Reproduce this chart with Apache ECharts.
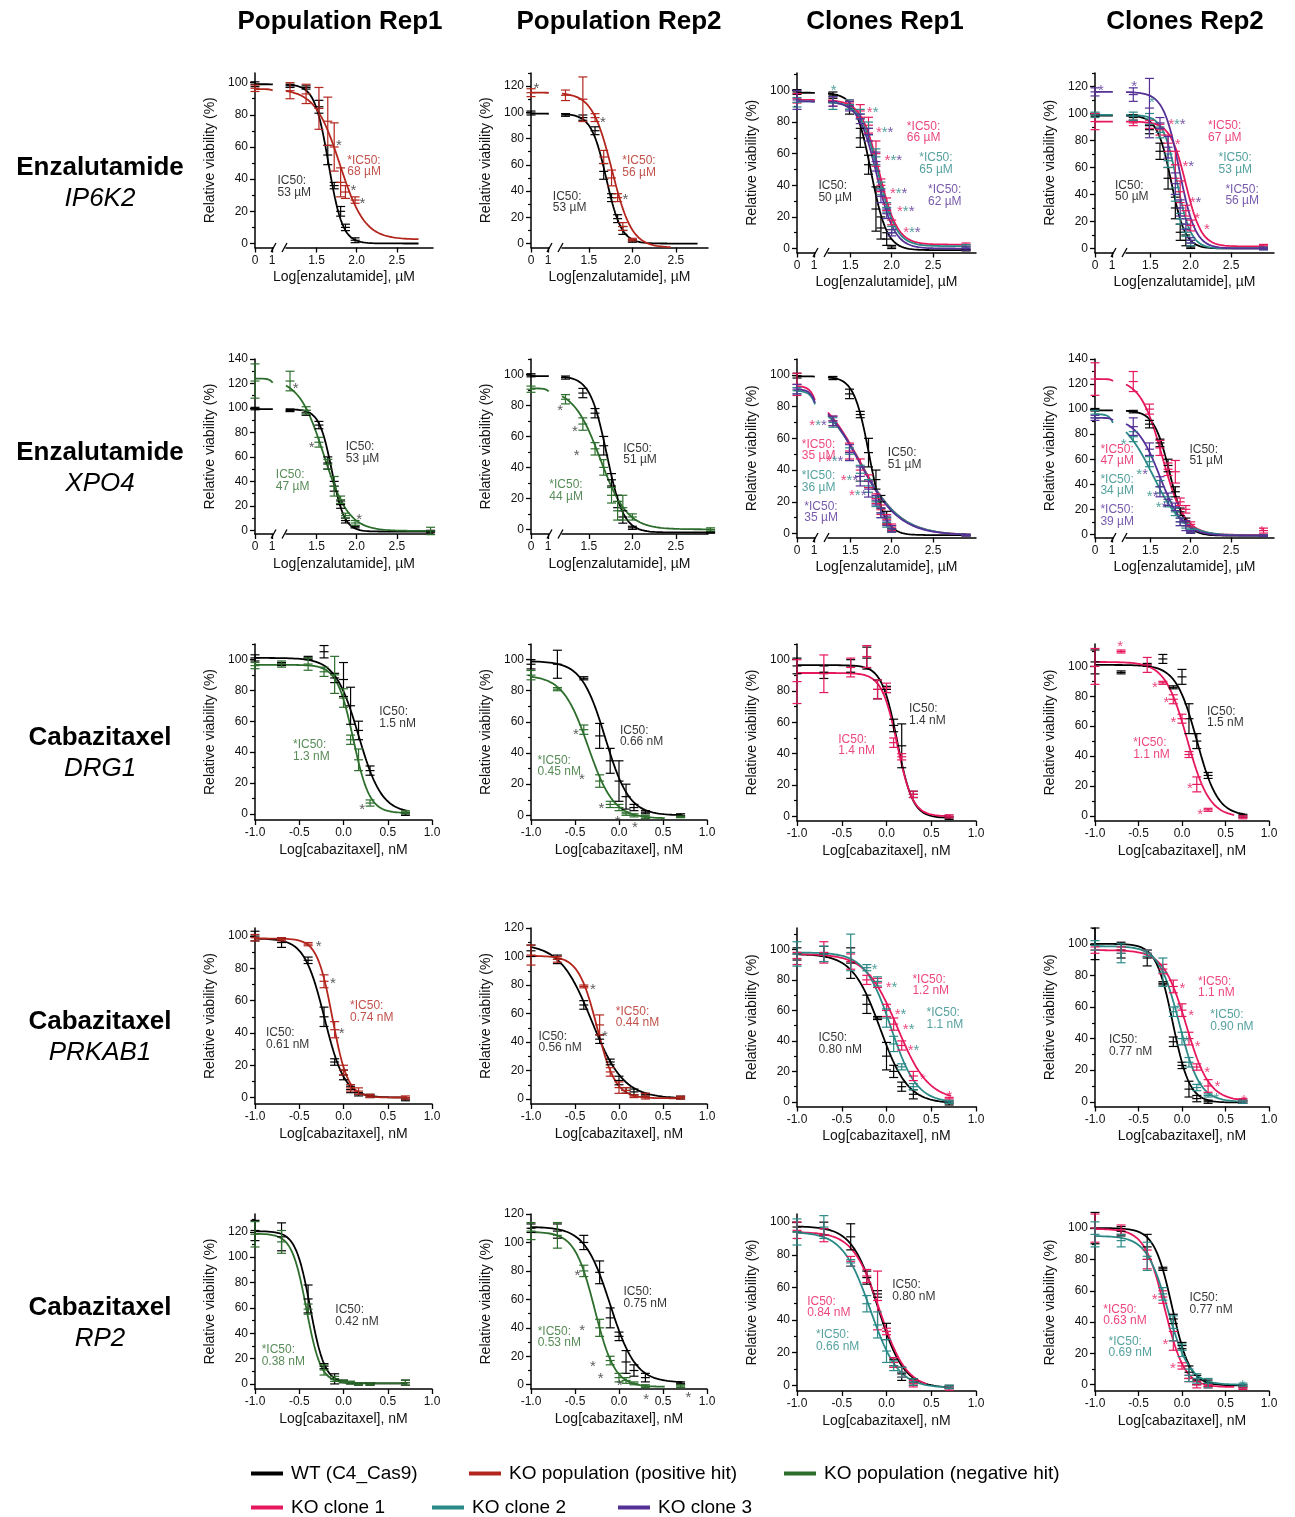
<!DOCTYPE html>
<html>
<head>
<meta charset="utf-8">
<title>Dose response curves</title>
<script src="https://cdn.jsdelivr.net/npm/echarts@6.0.0/dist/echarts.min.js"></script>
<style>
html, body { margin: 0; padding: 0; background: #fff; }
#chart { width: 1295px; height: 1517px; }
</style>
</head>
<body>
<div id="chart"></div>
<script>
var FONT = '"Liberation Sans", Arial, Helvetica, sans-serif';

// log10 doses (vehicle is plotted at 0 in enzalutamide panels)
var popRep1Doses = [1.17, 1.37, 1.53, 1.64, 1.72, 1.80, 1.86, 1.98, 2.92];
var popRep2Doses = [1.23, 1.43, 1.57, 1.67, 1.76, 1.83, 1.89, 2.00, 2.90];
var cloneDoses = [1.29, 1.49, 1.62, 1.72, 1.81, 1.87, 1.94, 2.00, 2.90];
var cabaDoses = [-1.0, -0.7, -0.4, -0.22, -0.1, 0.0, 0.08, 0.17, 0.3, 0.7];

var seriesNames = {
  wt: 'WT (C4_Cas9)', pos: 'KO population (positive hit)', neg: 'KO population (negative hit)',
  c1: 'KO clone 1', c2: 'KO clone 2', c3: 'KO clone 3'
};
var seriesColors = { wt: '#000000', pos: '#b3261e', neg: '#2d6e2d', c1: '#e6185c', c2: '#2b8a87', c3: '#553096' };
var starColors = { k: '#333333', p: '#e6185c', t: '#2b8a87', u: '#553096' };

// y axis [min, max, last labelled tick] per row
var ip6k2Y = [[-2.5, 106, 100], [-3, 130, 120], [-2.5, 111, 100], [-3, 130, 120]];
var xpo4Y = [[-3, 140, 140], [-3, 110, 100], [-2.5, 110, 100], [-2.5, 140, 140]];
var drg1Y = [[-4, 110, 100], [-3, 110, 100], [-3, 110, 100], [-3.5, 115, 100]];
var prkab1Y = [[-4, 105, 100], [-3.5, 120, 120], [-3, 114, 100], [-3, 110, 100]];
var rp2Y = [[-4, 134, 120], [-3, 120, 120], [-3.5, 105, 100], [-4, 109, 100]];

// fitted curves: [series, top, bottom, logIC50 (midpoint), hill slope, optional x end]
// points: [mean, SD] (null = not shown); enzalutamide lists start with the vehicle point
// notes: [series, x, y (top-left), text]; stars: [x, y, colours, 's' = vehicle segment]

// ---- Enzalutamide / IP6K2
var ip6k2Pop1Fit = [['wt', 99, 0, 1.65, 5, 2.77], ['pos', 96, 2.5, 1.79, 2.8, 2.77]];
var ip6k2Pop1Pts = {
  wt: [[99, 1.5], [98, 1], [97, 1], [85, 4], [55, 6], [36, 2], [20, 3], [10, 2], [2, 1.5], null],
  pos: [[96.5, 2], [95, 5], [93, 6], [84, 13], [76, 15], [60, 15], [38, 9], [32, 4], [27, 2], null]
};
var ip6k2Pop1Notes = [['wt', 1.02, 42, 'IC50:\n53 µM'], ['pos', 1.89, 55, '*IC50:\n68 µM']];
var ip6k2Pop1Stars = [[1.78, 63, 'k'], [1.96, 35, 'k'], [2.07, 27, 'k']];

var ip6k2Pop2Fit = [['wt', 99, 0, 1.70, 5, 2.75], ['pos', 115, -3, 1.765, 3.8, 2.44]];
var ip6k2Pop2Pts = {
  wt: [[99.5, 1.5], [98, 1], [96, 2], [86, 3], [55, 6], [35, 3], [19, 3], [10, 3], [2, 1], null],
  pos: [[115, 3], [113, 4], [110, 17], [96, 3], [66, 5], [50, 6], [35, 3], [13, 3], [3, 1], null]
};
var ip6k2Pop2Notes = [['wt', 1.09, 40, 'IC50:\n53 µM'], ['pos', 1.89, 67, '*IC50:\n56 µM']];
var ip6k2Pop2Stars = [[1.66, 95, 'k'], [1.92, 36, 'k'], [0.32, 121, 'k', 's']];

var ip6k2Clone1Fit = [['wt', 98.5, -1, 1.75, 4.5], ['c1', 94, 2.5, 1.85, 4], ['c2', 93, 1.5, 1.84, 4], ['c3', 93, 0, 1.82, 4]];
var ip6k2Clone1Pts = {
  wt: [[99, 1.5], [97, 2], [88, 3], [70, 6], [53, 6], [25, 14], [13, 7], [6, 4], [1, 1], [-1, 0.5]],
  c1: [[95, 3], [93, 3], [92, 2], [87, 4], [78, 5], [60, 8], [40, 4], [28, 4], [15, 3], [2.5, 1]],
  c2: [[92.5, 3], [92, 4], [91, 3], [85, 3], [76, 4], [58, 5], [38, 4], [26, 3], [12, 2], [1.5, 1]],
  c3: [[94, 6], [93, 3], [90, 3], [82, 3], [72, 4], [55, 6], [33, 4], [22, 3], [10, 2], [0, 1]]
};
var ip6k2Clone1Notes = [['wt', 1.12, 43, 'IC50:\n50 µM'], ['c1', 2.19, 80.5, '*IC50:\n66 µM'],
  ['c2', 2.34, 60.5, '*IC50:\n65 µM'], ['c3', 2.445, 40.5, '*IC50:\n62 µM']];
var ip6k2Clone1Stars = [[1.30, 102, 't'], [1.77, 88.5, 'pt'], [1.915, 75.5, 'ptu'], [2.02, 58, 'ptu'],
  [2.085, 37, 'ptu'], [2.17, 25.5, 'ptu'], [2.245, 12.5, 'ptu']];

var ip6k2Clone2Fit = [['wt', 98.5, 0, 1.76, 5], ['c1', 94, 1.5, 1.94, 4.5], ['c2', 99, 0, 1.83, 5], ['c3', 116, 0, 1.86, 4.4]];
var ip6k2Clone2Pts = {
  wt: [[99, 1], [97, 2], [88, 3], [72, 6], [52, 8], [30, 8], [12, 6], [6, 4], [1, 1], [0, 0.5]],
  c1: [[94, 6], [93, 2], [92, 3], [88, 4], [78, 6], [62, 10], [42, 8], [28, 4], [17, 4], [2, 1]],
  c2: [[99, 2], [98, 3], [96, 4], [86, 4], [65, 5], [40, 5], [22, 4], [12, 3], [4, 2], [0, 1]],
  c3: [[116, 3], [114, 5], [104, 22], [93, 4], [75, 8], [48, 8], [30, 6], [18, 4], [6, 2], [0, 1]]
};
var ip6k2Clone2Notes = [['wt', 1.07, 50.5, 'IC50:\n50 µM'], ['c1', 2.22, 94.5, '*IC50:\n67 µM'],
  ['c2', 2.35, 71, '*IC50:\n53 µM'], ['c3', 2.435, 47.5, '*IC50:\n56 µM']];
var ip6k2Clone2Stars = [[0.35, 120, 'u', 's'], [1.30, 122.5, 'u'], [1.52, 111, 't'], [1.83, 94.5, 'ptu'],
  [1.84, 79.5, 'p'], [1.97, 63.5, 'pu'], [2.06, 36.5, 'pu'], [2.08, 25, 'p'], [2.2, 16.5, 'p']];

// ---- Enzalutamide / XPO4
var xpo4Pop1Fit = [['wt', 99, -1, 1.69, 5.5], ['neg', 124, -0.5, 1.59, 2.8]];
var xpo4Pop1Pts = {
  wt: [[99.5, 1], [98, 1], [96, 2], [86, 3], [55, 5], [36, 4], [21, 3], [8, 2], [3, 1], [-1, 1]],
  neg: [[122, 14], [122, 8], [98, 3], [72, 4], [54, 4], [36, 8], [25, 3], [12, 2], [6, 2], [-0.5, 3]]
};
var xpo4Pop1Notes = [['wt', 1.87, 72.5, 'IC50:\n53 µM'], ['neg', 1.0, 49.5, 'IC50:\n47 µM']];
var xpo4Pop1Stars = [[1.24, 119, 'k'], [1.44, 71, 'k'], [2.03, 11.5, 'k']];

var xpo4Pop2Fit = [['wt', 99, -2, 1.705, 4.5], ['neg', 91, 0, 1.63, 2.8]];
var xpo4Pop2Pts = {
  wt: [[99.5, 1], [98, 1], [88, 3], [75, 3], [54, 6], [32, 4], [18, 4], [8, 4], [1, 1], [-2, 0.5]],
  neg: [[90.5, 2], [84, 3], [68, 4], [52, 4], [40, 5], [22, 5], [12, 6], [14, 8], [8, 2], [0, 1]]
};
var xpo4Pop2Notes = [['wt', 1.90, 55.5, 'IC50:\n51 µM'], ['neg', 1.05, 32, '*IC50:\n44 µM']];
var xpo4Pop2Stars = [[1.17, 79, 'k'], [1.34, 65.5, 'k'], [1.36, 50, 'k']];

var xpo4Clone1Fit = [['wt', 99, -1, 1.73, 4.7], ['c1', 93, -1, 1.61, 1.75], ['c2', 90, -1, 1.62, 1.75], ['c3', 91, -1, 1.61, 1.8]];
var xpo4Clone1Pts = {
  wt: [[99.5, 1.5], [98, 1], [88, 3], [75, 2], [51, 9], [34, 6], [20, 4], [10, 4], [2, 1], [-1, 0.5]],
  c1: [[94, 7], [71, 3], [52, 5], [40, 7], [33, 4], [22, 3], [15, 3], [9, 3], [4, 2], [-1, 0.5]],
  c2: [[90, 2], [70, 3], [50, 4], [38, 5], [30, 4], [20, 3], [13, 3], [7, 3], [3, 2], [-1, 0.5]],
  c3: [[91, 3], [71, 3], [51, 5], [36, 6], [28, 5], [21, 3], [13, 3], [8, 3], [3, 2], [-1, 0.5]]
};
var xpo4Clone1Notes = [['wt', 1.96, 54, 'IC50:\n51 µM'], ['c1', 0.92, 59.5, '*IC50:\n35 µM'],
  ['c2', 0.92, 39.5, '*IC50:\n36 µM'], ['c3', 0.95, 20.5, '*IC50:\n35 µM']];
var xpo4Clone1Stars = [[1.11, 70.5, 'ptu'], [1.31, 48, 'ptu'], [1.49, 36, 'ptu'], [1.59, 26.5, 'ptu']];

var xpo4Clone2Fit = [['wt', 99, -1, 1.74, 4.5], ['c1', 124, -0.5, 1.65, 3.2], ['c2', 96, -1, 1.53, 2.3], ['c3', 93, -1, 1.62, 3]];
var xpo4Clone2Pts = {
  wt: [[99.5, 1], [98, 1], [88, 3], [73, 3], [55, 5], [34, 4], [18, 3], [10, 3], [2, 1], [-1, 0.5]],
  c1: [[124, 13], [122, 8], [100, 4], [69, 6], [52, 5], [50, 9], [26, 3], [20, 3], [8, 2], [3, 2]],
  c2: [[96, 3], [78, 4], [58, 4], [38, 5], [26, 4], [18, 3], [10, 3], [7, 2], [3, 1], [-1, 0.5]],
  c3: [[93, 2], [86, 7], [68, 5], [38, 8], [28, 5], [22, 3], [10, 3], [7, 4], [2, 1], [-1, 0.5]]
};
var xpo4Clone2Notes = [['wt', 1.99, 72, 'IC50:\n51 µM'], ['c1', 0.89, 72, '*IC50:\n47 µM'],
  ['c2', 0.89, 48, '*IC50:\n34 µM'], ['c3', 0.89, 23.5, '*IC50:\n39 µM']];
var xpo4Clone2Stars = [[1.17, 74.5, 't'], [1.40, 50.5, 'tu'], [1.53, 33.5, 'tu'], [1.64, 24.5, 'tu'], [2.88, 5.5, 'p']];

// ---- Cabazitaxel / DRG1
var drg1Pop1Fit = [['wt', 101, 0.5, 0.17, 3.3], ['neg', 96.5, 0.5, 0.11, 4.7]];
var drg1Pop1Pts = {
  wt: [[101, 2], [97, 1], [101, 1], [105, 4], [88, 3], [87, 11], [70, 12], [54, 6], [28, 3], [0, 1]],
  neg: [[96, 2], [97, 2], [97, 4], [92, 3], [90, 12], [75, 6], [48, 3], [35, 7], [7, 2], [1, 1]]
};
var drg1Pop1Notes = [['wt', 0.41, 69.5, 'IC50:\n1.5 nM'], ['neg', -0.565, 48, '*IC50:\n1.3 nM']];
var drg1Pop1Stars = [[0.21, 5, 'k']];

var drg1Pop2Fit = [['wt', 99, 0, -0.155, 3.2], ['neg', 90, -2, -0.35, 3, 0.52]];
var drg1Pop2Pts = {
  wt: [[97, 3], [97, 9], [88, 1], [51, 8], [35, 8], [22, 13], [12, 8], [5, 2], [2, 1], [0, 1]],
  neg: [[90, 3], [81, 1], [55, 3], [22, 4], [7, 2], [5, 2], [1, 1], [0, 1], [-1, 1], [-1, 0.5]]
};
var drg1Pop2Notes = [['wt', 0.016, 58, 'IC50:\n0.66 nM'], ['neg', -0.92, 38.5, '*IC50:\n0.45 nM']];
var drg1Pop2Stars = [[-0.49, 54.5, 'k'], [-0.42, 25.5, 'k'], [-0.2, 6.5, 'k'], [-0.016, -1.5, 'k'], [0.18, -5.5, 'k']];

var drg1Clone1Fit = [['wt', 96.5, -1, 0.12, 5], ['c1', 91.5, 0, 0.12, 5]];
var drg1Clone1Pts = {
  wt: [[96, 5], [92, 4], [96, 4], [101, 7], [81, 6], [81, 2], [58, 4], [45, 14], [14, 2], [-1, 1]],
  c1: [[86, 14], [91, 12], [95, 6], [102, 7], [81, 6], [82, 3], [47, 3], [38, 2], [14, 2], [0, 1]]
};
var drg1Clone1Notes = [['wt', 0.257, 72, 'IC50:\n1.4 nM'], ['c1', -0.534, 52.3, 'IC50:\n1.4 nM']];
var drg1Clone1Stars = [];

var drg1Clone2Fit = [['wt', 101, 0, 0.17, 3.6], ['c1', 103, -1, 0.06, 3.4, 0.6]];
var drg1Clone2Pts = {
  wt: [[103, 8], [96, 1], [101, 1], [105, 3], [86, 1], [93, 5], [65, 10], [50, 5], [27, 2], [0, 1]],
  c1: [[100, 12], [110, 1], [101, 5], [89, 1], [78, 3], [65, 3], [41, 2], [21, 5], [4, 1], [-1, 1]]
};
var drg1Clone2Notes = [['wt', 0.293, 73.5, 'IC50:\n1.5 nM'], ['c1', -0.556, 52.2, '*IC50:\n1.1 nM']];
var drg1Clone2Stars = [[-0.71, 115.5, 'p'], [-0.31, 88, 'p'], [-0.18, 78, 'p'], [-0.10, 65, 'p'], [0.09, 21, 'p'], [0.21, 3, 'p']];

// ---- Cabazitaxel / PRKAB1
var prkab1Pop1Fit = [['wt', 98.5, 0, -0.215, 3.8], ['pos', 98.5, 0, -0.125, 5]];
var prkab1Pop1Pts = {
  wt: [[100, 3], [96, 3], [85, 2], [50, 6], [22, 2], [14, 3], [5, 2], [2, 1], [1, 1], [-1, 1]],
  pos: [[99, 2], [98, 1], [95, 1], [72, 4], [42, 5], [17, 3], [6, 2], [4, 2], [1, 1], [0, 1]]
};
var prkab1Pop1Notes = [['wt', -0.87, 43.3, 'IC50:\n0.61 nM'], ['pos', 0.08, 60, '*IC50:\n0.74 nM']];
var prkab1Pop1Stars = [[-0.28, 96, 'k'], [-0.12, 73, 'k'], [-0.02, 42, 'k']];

var prkab1Pop2Fit = [['wt', 109, 0.5, -0.31, 2.4], ['pos', 100.5, 0.5, -0.25, 4.1]];
var prkab1Pop2Pts = {
  wt: [[104, 4], [98, 3], [66, 3], [42, 3], [26, 2], [13, 3], [6, 2], [5, 2], [3, 1], [1, 1]],
  pos: [[101, 7], [98, 2], [79, 1], [52, 7], [19, 3], [8, 4], [6, 2], [2, 1], [2, 2], [1, 1]]
};
var prkab1Pop2Notes = [['wt', -0.91, 47.7, 'IC50:\n0.56 nM'], ['pos', -0.03, 65.3, '*IC50:\n0.44 nM']];
var prkab1Pop2Stars = [[-0.295, 79.3, 'k'], [-0.16, 46.5, 'k']];

var prkab1Clone1Fit = [['wt', 97, -1, -0.07, 2.8], ['c1', 97, 1, 0.12, 2.5], ['c2', 98, -0.5, 0.05, 3]];
var prkab1Clone1Pts = {
  wt: [[97, 4], [97, 5], [91, 10], [64, 6], [55, 1], [30, 9], [20, 4], [10, 3], [5, 3], [-1, 1]],
  c1: [[94, 4], [98, 7], [92, 5], [80, 3], [78, 3], [60, 4], [51, 4], [37, 3], [17, 3], [2, 1]],
  c2: [[97, 8], [97, 5], [98, 12], [88, 2], [79, 3], [55, 6], [38, 5], [23, 2], [10, 2], [0, 1]]
};
var prkab1Clone1Notes = [['wt', -0.754, 45.3, 'IC50:\n0.80 nM'], ['c1', 0.295, 83.6, '*IC50:\n1.2 nM'],
  ['c2', 0.453, 61.7, '*IC50:\n1.1 nM']];
var prkab1Clone1Stars = [[-0.133, 89, 't'], [0.057, 77.5, 'pt'], [0.157, 59.5, 'pt'], [0.248, 49.7, 'pt'],
  [0.303, 36, 'pt'], [0.406, 16.8, 'p'], [0.703, 5.9, 'p']];

var prkab1Clone2Fit = [['wt', 100, -0.5, -0.105, 4.5], ['c1', 96, 0.5, 0.05, 3.3], ['c2', 98.5, 0, -0.03, 3.7]];
var prkab1Clone2Pts = {
  wt: [[100, 10], [96, 5], [91, 5], [75, 1], [38, 3], [23, 2], [8, 5], [2, 2], [0, 1], [0, 1]],
  c1: [[96, 2], [96, 2], [94, 2], [84, 3], [73, 4], [58, 4], [40, 4], [22, 2], [10, 4], [1, 1]],
  c2: [[99, 3], [94, 6], [94, 2], [82, 9], [57, 3], [40, 4], [25, 3], [9, 2], [4, 1], [0, 1]]
};
var prkab1Clone2Notes = [['wt', -0.834, 42.4, 'IC50:\n0.77 nM'], ['c1', 0.19, 79.4, '*IC50:\n1.1 nM'],
  ['c2', 0.33, 58.3, '*IC50:\n0.90 nM']];
var prkab1Clone2Stars = [[0.006, 73.7, 'p'], [0.105, 57.2, 'p'], [0.18, 37, 'p'], [0.29, 20.8, 'p'], [0.408, 11.7, 'p'],
  [0.712, 3.2, 'p'], [-0.045, 60.4, 't'], [0.053, 40.3, 't'], [0.21, 11.7, 't'], [0.396, 4.2, 't']];

// ---- Cabazitaxel / RP2
var rp2Pop1Fit = [['wt', 120.5, 0.5, -0.377, 5.3], ['neg', 118.5, 0.5, -0.42, 5.3]];
var rp2Pop1Pts = {
  wt: [[121, 8], [116, 11], [67, 11], [14, 2], [4, 4], [2, 1], [1, 1], [0, 1], [0, 1], [1, 2]],
  neg: [[118, 10], [112, 9], [59, 4], [11, 4], [4, 2], [2, 1], [1, 1], [0, 1], [0, 1], [1, 2]]
};
var rp2Pop1Notes = [['wt', -0.087, 62.6, 'IC50:\n0.42 nM'], ['neg', -0.919, 31, '*IC50:\n0.38 nM']];
var rp2Pop1Stars = [];

var rp2Pop2Fit = [['wt', 111, 1.5, -0.1, 3], ['neg', 107.5, -1.5, -0.276, 3.8, 0.52]];
var rp2Pop2Pts = {
  wt: [[110, 3], [108, 5], [100, 5], [79, 8], [47, 7], [34, 3], [16, 8], [10, 4], [5, 3], [1, 1]],
  neg: [[108, 6], [105, 9], [80, 4], [40, 6], [17, 3], [5, 3], [3, 2], [1, 1], [-1, 1], [-1, 1]]
};
var rp2Pop2Notes = [['wt', 0.057, 69, 'IC50:\n0.75 nM'], ['neg', -0.919, 41, '*IC50:\n0.53 nM']];
var rp2Pop2Stars = [[-0.472, 79.5, 'k'], [-0.419, 41, 'k'], [-0.297, 15.2, 'k'], [-0.207, 7, 'k'],
  [0.008, 2.3, 'k'], [0.309, -7.5, 'k'], [0.789, -6.5, 'k']];

var rp2Clone1Fit = [['wt', 97.5, -1.5, -0.097, 3], ['c1', 94, -2, -0.076, 2.9, 0.45], ['c2', 94, -1.5, -0.18, 2.8]];
var rp2Clone1Pts = {
  wt: [[97, 3], [96, 4], [91, 8], [66, 4], [56, 2], [33, 5], [14, 2], [7, 4], [2, 2], [-1, 1]],
  c1: [[95, 5], [92, 4], [76, 3], [67, 4], [52, 18], [33, 2], [14, 3], [8, 3], [1, 2], [-2, 1]],
  c2: [[94, 8], [97, 7], [75, 2], [50, 5], [37, 8], [21, 7], [12, 3], [8, 3], [2, 2], [-1, 1]]
};
var rp2Clone1Notes = [['wt', 0.069, 64.7, 'IC50:\n0.80 nM'], ['c1', -0.881, 54.5, 'IC50:\n0.84 nM'],
  ['c2', -0.782, 34.1, '*IC50:\n0.66 nM']];
var rp2Clone1Stars = [];

var rp2Clone2Fit = [['wt', 100, -0.5, -0.114, 4.2], ['c1', 99.5, -1.5, -0.2, 3.8, 0.6], ['c2', 95, 0, -0.161, 3.5]];
var rp2Clone2Pts = {
  wt: [[100, 10], [98, 3], [88, 8], [74, 1], [42, 3], [25, 2], [8, 4], [3, 3], [1, 2], [-1, 1]],
  c1: [[100, 9], [99, 3], [80, 6], [56, 4], [28, 6], [12, 2], [4, 2], [0, 2], [-1, 1], [-2, 1]],
  c2: [[96, 8], [92, 4], [82, 9], [58, 4], [36, 8], [22, 4], [6, 4], [4, 3], [1, 3], [0, 1]]
};
var rp2Clone2Notes = [['wt', 0.091, 58.9, 'IC50:\n0.77 nM'], ['c1', -0.899, 51.4, '*IC50:\n0.63 nM'],
  ['c2', -0.838, 31, '*IC50:\n0.69 nM']];
var rp2Clone2Stars = [[-0.313, 56.7, 'p'], [-0.192, 27.8, 'p'], [-0.103, 12.8, 'p'], [0.697, 2.1, 't']];

// text
var colTitles = ['Population Rep1', 'Population Rep2', 'Clones Rep1', 'Clones Rep2'];
var rowDrugs = ['Enzalutamide', 'Enzalutamide', 'Cabazitaxel', 'Cabazitaxel', 'Cabazitaxel'];
var rowGenes = ['IP6K2', 'XPO4', 'DRG1', 'PRKAB1', 'RP2'];

// layout
var colLeft = [255, 531, 797, 1095];
var colRightEnza = [433, 708, 976, 1274];
var colRightCaba = [432, 707, 976, 1269];
var rowTop = [73, 359, 644, 928, 1214];
var rowBottomA = [247.5, 534, 820, 1104, 1389];
var rowBottomB = [252.5, 537.5, 821, 1106.5, 1391];
var enzaRange = [[1.12, 2.95], [1.19, 2.87], [1.23, 3.02], [1.2, 3.03]];
var titleX = [340, 619, 885, 1185];
var rowLabelY = [168, 453, 738, 1022, 1308];
var SMALL_W = 18, SMALL_MAX = 1.06, MAIN_OFF = 31;

var panels = [
  { row: 0, col: 0, drug: 'enza', doses: popRep1Doses, y: ip6k2Y[0], fit: ip6k2Pop1Fit, pts: ip6k2Pop1Pts, notes: ip6k2Pop1Notes, stars: ip6k2Pop1Stars },
  { row: 0, col: 1, drug: 'enza', doses: popRep2Doses, y: ip6k2Y[1], fit: ip6k2Pop2Fit, pts: ip6k2Pop2Pts, notes: ip6k2Pop2Notes, stars: ip6k2Pop2Stars },
  { row: 0, col: 2, drug: 'enza', doses: cloneDoses, y: ip6k2Y[2], fit: ip6k2Clone1Fit, pts: ip6k2Clone1Pts, notes: ip6k2Clone1Notes, stars: ip6k2Clone1Stars },
  { row: 0, col: 3, drug: 'enza', doses: cloneDoses, y: ip6k2Y[3], fit: ip6k2Clone2Fit, pts: ip6k2Clone2Pts, notes: ip6k2Clone2Notes, stars: ip6k2Clone2Stars },
  { row: 1, col: 0, drug: 'enza', doses: popRep1Doses, y: xpo4Y[0], fit: xpo4Pop1Fit, pts: xpo4Pop1Pts, notes: xpo4Pop1Notes, stars: xpo4Pop1Stars },
  { row: 1, col: 1, drug: 'enza', doses: popRep2Doses, y: xpo4Y[1], fit: xpo4Pop2Fit, pts: xpo4Pop2Pts, notes: xpo4Pop2Notes, stars: xpo4Pop2Stars },
  { row: 1, col: 2, drug: 'enza', doses: cloneDoses, y: xpo4Y[2], fit: xpo4Clone1Fit, pts: xpo4Clone1Pts, notes: xpo4Clone1Notes, stars: xpo4Clone1Stars },
  { row: 1, col: 3, drug: 'enza', doses: cloneDoses, y: xpo4Y[3], fit: xpo4Clone2Fit, pts: xpo4Clone2Pts, notes: xpo4Clone2Notes, stars: xpo4Clone2Stars },
  { row: 2, col: 0, drug: 'caba', doses: cabaDoses, y: drg1Y[0], fit: drg1Pop1Fit, pts: drg1Pop1Pts, notes: drg1Pop1Notes, stars: drg1Pop1Stars },
  { row: 2, col: 1, drug: 'caba', doses: cabaDoses, y: drg1Y[1], fit: drg1Pop2Fit, pts: drg1Pop2Pts, notes: drg1Pop2Notes, stars: drg1Pop2Stars },
  { row: 2, col: 2, drug: 'caba', doses: cabaDoses, y: drg1Y[2], fit: drg1Clone1Fit, pts: drg1Clone1Pts, notes: drg1Clone1Notes, stars: drg1Clone1Stars },
  { row: 2, col: 3, drug: 'caba', doses: cabaDoses, y: drg1Y[3], fit: drg1Clone2Fit, pts: drg1Clone2Pts, notes: drg1Clone2Notes, stars: drg1Clone2Stars },
  { row: 3, col: 0, drug: 'caba', doses: cabaDoses, y: prkab1Y[0], fit: prkab1Pop1Fit, pts: prkab1Pop1Pts, notes: prkab1Pop1Notes, stars: prkab1Pop1Stars },
  { row: 3, col: 1, drug: 'caba', doses: cabaDoses, y: prkab1Y[1], fit: prkab1Pop2Fit, pts: prkab1Pop2Pts, notes: prkab1Pop2Notes, stars: prkab1Pop2Stars },
  { row: 3, col: 2, drug: 'caba', doses: cabaDoses, y: prkab1Y[2], fit: prkab1Clone1Fit, pts: prkab1Clone1Pts, notes: prkab1Clone1Notes, stars: prkab1Clone1Stars },
  { row: 3, col: 3, drug: 'caba', doses: cabaDoses, y: prkab1Y[3], fit: prkab1Clone2Fit, pts: prkab1Clone2Pts, notes: prkab1Clone2Notes, stars: prkab1Clone2Stars },
  { row: 4, col: 0, drug: 'caba', doses: cabaDoses, y: rp2Y[0], fit: rp2Pop1Fit, pts: rp2Pop1Pts, notes: rp2Pop1Notes, stars: rp2Pop1Stars },
  { row: 4, col: 1, drug: 'caba', doses: cabaDoses, y: rp2Y[1], fit: rp2Pop2Fit, pts: rp2Pop2Pts, notes: rp2Pop2Notes, stars: rp2Pop2Stars },
  { row: 4, col: 2, drug: 'caba', doses: cabaDoses, y: rp2Y[2], fit: rp2Clone1Fit, pts: rp2Clone1Pts, notes: rp2Clone1Notes, stars: rp2Clone1Stars },
  { row: 4, col: 3, drug: 'caba', doses: cabaDoses, y: rp2Y[3], fit: rp2Clone2Fit, pts: rp2Clone2Pts, notes: rp2Clone2Notes, stars: rp2Clone2Stars }
];

var grids = [], xAxes = [], yAxes = [], series = [], graphics = [];

// four-parameter logistic with the parameters above
function hill(f, x) {
  return f[2] + (f[1] - f[2]) / (1 + Math.pow(10, (x - f[3]) * f[4]));
}
function curveData(f, x0, x1) {
  var out = [], n = Math.max(2, Math.round((x1 - x0) / 0.01));
  for (var i = 0; i <= n; i++) {
    var x = x0 + (x1 - x0) * i / n;
    out.push([x, hill(f, x)]);
  }
  return out;
}
// pair doses with [mean, sd]; skips points that are not drawn
function barData(doses, pts) {
  var out = [];
  doses.forEach(function (d, i) {
    if (pts[i]) out.push([d, pts[i][0], pts[i][1]]);
  });
  return out;
}

function makeX(grid, min, max, ticks, fmt) {
  return {
    type: 'value', gridIndex: grid, min: min, max: max, position: 'bottom',
    axisLine: { show: true, onZero: false, lineStyle: { color: '#000', width: 1.5 } },
    axisTick: { show: true, length: 5, customValues: ticks, lineStyle: { color: '#000', width: 1.3 } },
    axisLabel: { show: true, customValues: ticks, formatter: fmt, margin: 7, fontSize: 12, color: '#111', fontFamily: FONT },
    splitLine: { show: false }
  };
}
function makeY(grid, y, majors) {
  return {
    type: 'value', gridIndex: grid, min: y[0], max: y[1], position: 'left',
    axisLine: { show: true, onZero: false, lineStyle: { color: '#000', width: 1.5 } },
    axisTick: { show: true, length: 5, customValues: majors, lineStyle: { color: '#000', width: 1.3 } },
    axisLabel: { show: true, customValues: majors, margin: 7, fontSize: 12, color: '#111', fontFamily: FONT,
      formatter: function (v) { return String(v); } },
    splitLine: { show: false },
    name: 'Relative viability (%)', nameLocation: 'middle', nameGap: 38, nameRotate: 90,
    nameTextStyle: { fontSize: 14, color: '#111', fontFamily: FONT }
  };
}
function makeMinorY(grid, y, minors) {
  return {
    type: 'value', gridIndex: grid, min: y[0], max: y[1], position: 'left',
    axisLine: { show: false, onZero: false },
    axisTick: { show: true, length: 3, customValues: minors, lineStyle: { color: '#000', width: 1.2 } },
    axisLabel: { show: false }, splitLine: { show: false }
  };
}

function renderErrorBar(params, api) {
  var x = api.value(0), m = api.value(1), e = api.value(2);
  var pm = api.coord([x, m]), hi = api.coord([x, m + e]), lo = api.coord([x, m - e]);
  var w = 4.5, st = { stroke: api.visual('color'), lineWidth: 1.2 };
  return {
    type: 'group',
    children: [
      { type: 'line', shape: { x1: pm[0], y1: hi[1], x2: pm[0], y2: lo[1] }, style: st },
      { type: 'line', shape: { x1: pm[0] - w, y1: hi[1], x2: pm[0] + w, y2: hi[1] }, style: st },
      { type: 'line', shape: { x1: pm[0] - w, y1: lo[1], x2: pm[0] + w, y2: lo[1] }, style: st },
      { type: 'line', shape: { x1: pm[0] - w, y1: pm[1], x2: pm[0] + w, y2: pm[1] }, style: st }
    ]
  };
}

function lineSeries(key, xi, yi, data) {
  return {
    type: 'line', name: seriesNames[key], xAxisIndex: xi, yAxisIndex: yi, data: data,
    symbol: 'none', smooth: false, silent: true, z: 3,
    lineStyle: { color: seriesColors[key], width: 1.8 }, itemStyle: { color: seriesColors[key] }
  };
}
function barSeries(key, xi, yi, data) {
  return {
    type: 'custom', name: seriesNames[key], xAxisIndex: xi, yAxisIndex: yi, data: data,
    renderItem: renderErrorBar, encode: { x: 0, y: 1 }, clip: false, silent: true, z: 4,
    itemStyle: { color: seriesColors[key] }
  };
}
function notesSeries(xi, yi, notes) {
  return {
    type: 'scatter', xAxisIndex: xi, yAxisIndex: yi, silent: true, clip: false, z: 5,
    symbolSize: 1, itemStyle: { color: 'rgba(0,0,0,0)' },
    label: { show: true, position: [0, 0], align: 'left', verticalAlign: 'top', fontSize: 12, lineHeight: 11.5,
      fontFamily: FONT, formatter: function (pr) { return pr.name; } },
    data: notes.map(function (n) {
      return { name: n[3], value: [n[1], n[2]], label: { color: seriesColors[n[0]] } };
    })
  };
}
var starRich = {};
Object.keys(starColors).forEach(function (k) {
  starRich[k] = { color: starColors[k], fontSize: 15, fontFamily: FONT };
});
function starsSeries(xi, yi, stars) {
  return {
    type: 'scatter', xAxisIndex: xi, yAxisIndex: yi, silent: true, clip: false, z: 5,
    symbolSize: 1, itemStyle: { color: 'rgba(0,0,0,0)' },
    label: { show: true, position: 'inside', offset: [0, 4], fontSize: 15, fontFamily: FONT, rich: starRich,
      formatter: function (pr) { return pr.name; } },
    data: stars.map(function (s) {
      var txt = s[2].split('').map(function (c) { return '{' + c + '|*}'; }).join('');
      return { name: txt, value: [s[0], s[1]] };
    })
  };
}

function fmt1(v) { return v.toFixed(1); }

function buildPanel(p) {
  var L = colLeft[p.col], T = rowTop[p.row];
  var B = (p.col < 2 ? rowBottomA : rowBottomB)[p.row];
  var enza = p.drug === 'enza';
  var R = enza ? colRightEnza[p.col] : colRightCaba[p.col];
  var majors = [], minors = [], v;
  for (v = 0; v <= p.y[2]; v += 20) majors.push(v);
  for (v = 10; v <= p.y[1]; v += 20) minors.push(v);
  var g0 = grids.length;
  var xMain, yMain, xSmall, ySmall;

  if (enza) {
    var rng = enzaRange[p.col];
    grids.push({ left: L, top: T, width: SMALL_W, height: B - T, outerBoundsMode: 'none' });
    grids.push({ left: L + MAIN_OFF, top: T, width: R - L - MAIN_OFF, height: B - T, outerBoundsMode: 'none' });
    xSmall = xAxes.length;
    xAxes.push(makeX(g0, 0, SMALL_MAX, [0, 1], function (val) { return String(val); }));
    xMain = xAxes.length;
    xAxes.push(makeX(g0 + 1, rng[0], rng[1], [1.5, 2, 2.5], fmt1));
    ySmall = yAxes.length;
    yAxes.push(makeY(g0, p.y, majors));
    yAxes.push(makeMinorY(g0, p.y, minors));
    yMain = yAxes.length;
    yAxes.push({ type: 'value', gridIndex: g0 + 1, min: p.y[0], max: p.y[1], show: false });

    p.fit.forEach(function (f) {
      var key = f[0], pts = p.pts[key];
      series.push(lineSeries(key, xSmall, ySmall, curveData(f, 0, SMALL_MAX)));
      series.push(lineSeries(key, xMain, yMain, curveData(f, rng[0], f[5] || 2.9)));
      series.push(barSeries(key, xSmall, ySmall, barData([0], pts.slice(0, 1))));
      series.push(barSeries(key, xMain, yMain, barData(p.doses, pts.slice(1))));
    });
    series.push(notesSeries(xMain, yMain, p.notes));
    series.push(starsSeries(xMain, yMain, p.stars.filter(function (s) { return s[3] !== 's'; })));
    series.push(starsSeries(xSmall, ySmall, p.stars.filter(function (s) { return s[3] === 's'; })));

    // axis break marks
    [L + 18.5, L + 29.5].forEach(function (cx) {
      graphics.push({ type: 'line', silent: true,
        shape: { x1: cx - 2.5, y1: B + 4.5, x2: cx + 2.5, y2: B - 4.5 },
        style: { stroke: '#000', lineWidth: 1.3 } });
    });
  } else {
    grids.push({ left: L, top: T, width: R - L, height: B - T, outerBoundsMode: 'none' });
    xMain = xAxes.length;
    var cx = makeX(g0, -1, 1, null, fmt1);
    cx.interval = 0.5;
    delete cx.axisTick.customValues;
    delete cx.axisLabel.customValues;
    xAxes.push(cx);
    yMain = yAxes.length;
    yAxes.push(makeY(g0, p.y, majors));
    yAxes.push(makeMinorY(g0, p.y, minors));
    p.fit.forEach(function (f) {
      var key = f[0], pts = p.pts[key];
      series.push(lineSeries(key, xMain, yMain, curveData(f, -1, f[5] || 0.72)));
      series.push(barSeries(key, xMain, yMain, barData(p.doses, pts)));
    });
    series.push(notesSeries(xMain, yMain, p.notes));
    series.push(starsSeries(xMain, yMain, p.stars));
  }

  graphics.push({
    type: 'text', silent: true, x: (L + R) / 2, y: B + 30,
    style: { text: enza ? 'Log[enzalutamide], µM' : 'Log[cabazitaxel], nM', fill: '#111',
      fontSize: 14, fontFamily: FONT, align: 'center', verticalAlign: 'middle' }
  });
}

panels.forEach(buildPanel);

colTitles.forEach(function (t, i) {
  graphics.push({ type: 'text', silent: true, x: titleX[i], y: 22,
    style: { text: t, fill: '#000', fontSize: 26, fontWeight: 'bold', fontFamily: FONT, align: 'center', verticalAlign: 'middle' } });
});
rowDrugs.forEach(function (t, i) {
  graphics.push({ type: 'text', silent: true, x: 100, y: rowLabelY[i],
    style: { text: t, fill: '#000', fontSize: 26, fontWeight: 'bold', fontFamily: FONT, align: 'center', verticalAlign: 'middle' } });
  graphics.push({ type: 'text', silent: true, x: 100, y: rowLabelY[i] + 31,
    style: { text: rowGenes[i], fill: '#000', fontSize: 26, fontStyle: 'italic', fontFamily: FONT, align: 'center', verticalAlign: 'middle' } });
});

var legendSpots = [['wt', 251, 1464], ['pos', 469, 1464], ['neg', 784, 1464], ['c1', 251, 1498], ['c2', 432, 1498], ['c3', 618, 1498]];
var legends = legendSpots.map(function (it) {
  return {
    data: [seriesNames[it[0]]], left: it[1], top: it[2], icon: 'rect', itemWidth: 32, itemHeight: 4,
    padding: 0, itemGap: 0, selectedMode: false,
    textStyle: { fontSize: 19, fontFamily: FONT, color: '#000', padding: [0, 0, 0, 3] }
  };
});

var chart = echarts.init(document.getElementById('chart'));
chart.setOption({
  backgroundColor: '#ffffff',
  animation: false,
  textStyle: { fontFamily: FONT },
  legend: legends,
  grid: grids,
  xAxis: xAxes,
  yAxis: yAxes,
  series: series,
  graphic: graphics
});
</script>
</body>
</html>
